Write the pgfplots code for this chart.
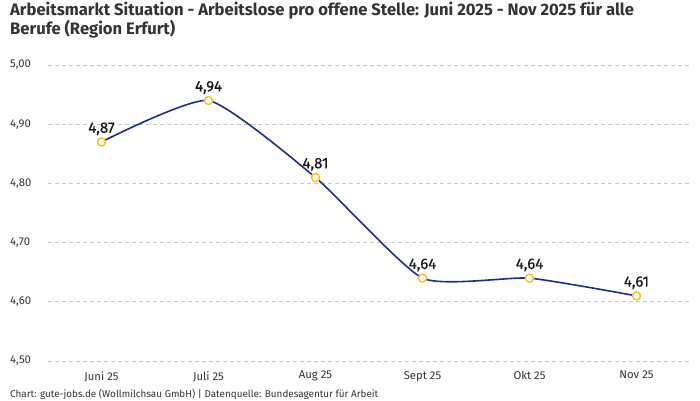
\documentclass[border=0pt]{standalone}
\usepackage{pgfplots}
\pgfplotsset{compat=1.18}
\usepackage{fontspec}
\setmainfont{Fira Sans}
\newfontfamily\werte[FakeBold=0.6]{Fira Sans}

\definecolor{linie}{HTML}{1E2D8C}
\definecolor{punkt}{HTML}{F7C325}
\definecolor{gitter}{HTML}{C8C8C8}
\definecolor{schrift}{HTML}{333333}

\begin{document}
\begin{tikzpicture}
\path[use as bounding box] (0pt,0pt) rectangle (700pt,400pt);

% Titel und Quelle
\node[anchor=north west, align=left, inner sep=0pt, text=schrift,
      font=\bfseries\fontsize{16.6}{19}\selectfont] at (10pt,398pt)
  {Arbeitsmarkt Situation - Arbeitslose pro offene Stelle: Juni 2025 - Nov 2025 für alle\\Berufe (Region Erfurt)};
\node[anchor=base west, inner sep=0pt, text=schrift,
      font=\fontsize{9.9}{11}\selectfont] at (10pt,3pt)
  {Chart: gute-jobs.de (Wollmilchsau GmbH) | Datenquelle: Bundesagentur für Arbeit};

\begin{axis}[
  at={(48pt,39pt)}, anchor=south west,
  scale only axis,
  width=642pt, height=296pt,
  xmin=-0.5, xmax=5.5,
  ymin=4.5, ymax=5.0,
  xtick={0,1,2,3,4,5},
  xticklabels={Juni 25,Juli 25,Aug 25,Sept 25,Okt 25,Nov 25},
  ytick={4.5,4.6,4.7,4.8,4.9,5.0},
  /pgf/number format/.cd, use comma, fixed, zerofill, precision=2, assume math mode=true,
  /pgfplots/.cd,
  axis line style={draw=none},
  tick style={draw=none},
  ymajorgrids,
  major grid style={gitter, line width=0.7pt, dash pattern=on 4pt off 3pt},
  ticklabel style={font=\fontsize{11.3}{13}\selectfont, text=schrift},
  xticklabel style={inner sep=0pt, anchor=north, yshift=-10pt},
  yticklabel style={inner sep=0pt, anchor=west, xshift=-38pt},
  clip=false,
  nodes near coords,
  every node near coord/.append style={font=\werte\fontsize{15}{17}\selectfont, text=black!90,
      anchor=south, inner sep=0pt, yshift=6pt},
]
\addplot[linie, line width=1.6pt, smooth, tension=0.32,
  mark=*, mark size=4pt, mark options={fill=white, draw=punkt, line width=1.5pt}]
  coordinates {(0,4.87) (1,4.94) (2,4.81) (3,4.64) (4,4.64) (5,4.61)};
\end{axis}
\end{tikzpicture}
\end{document}
